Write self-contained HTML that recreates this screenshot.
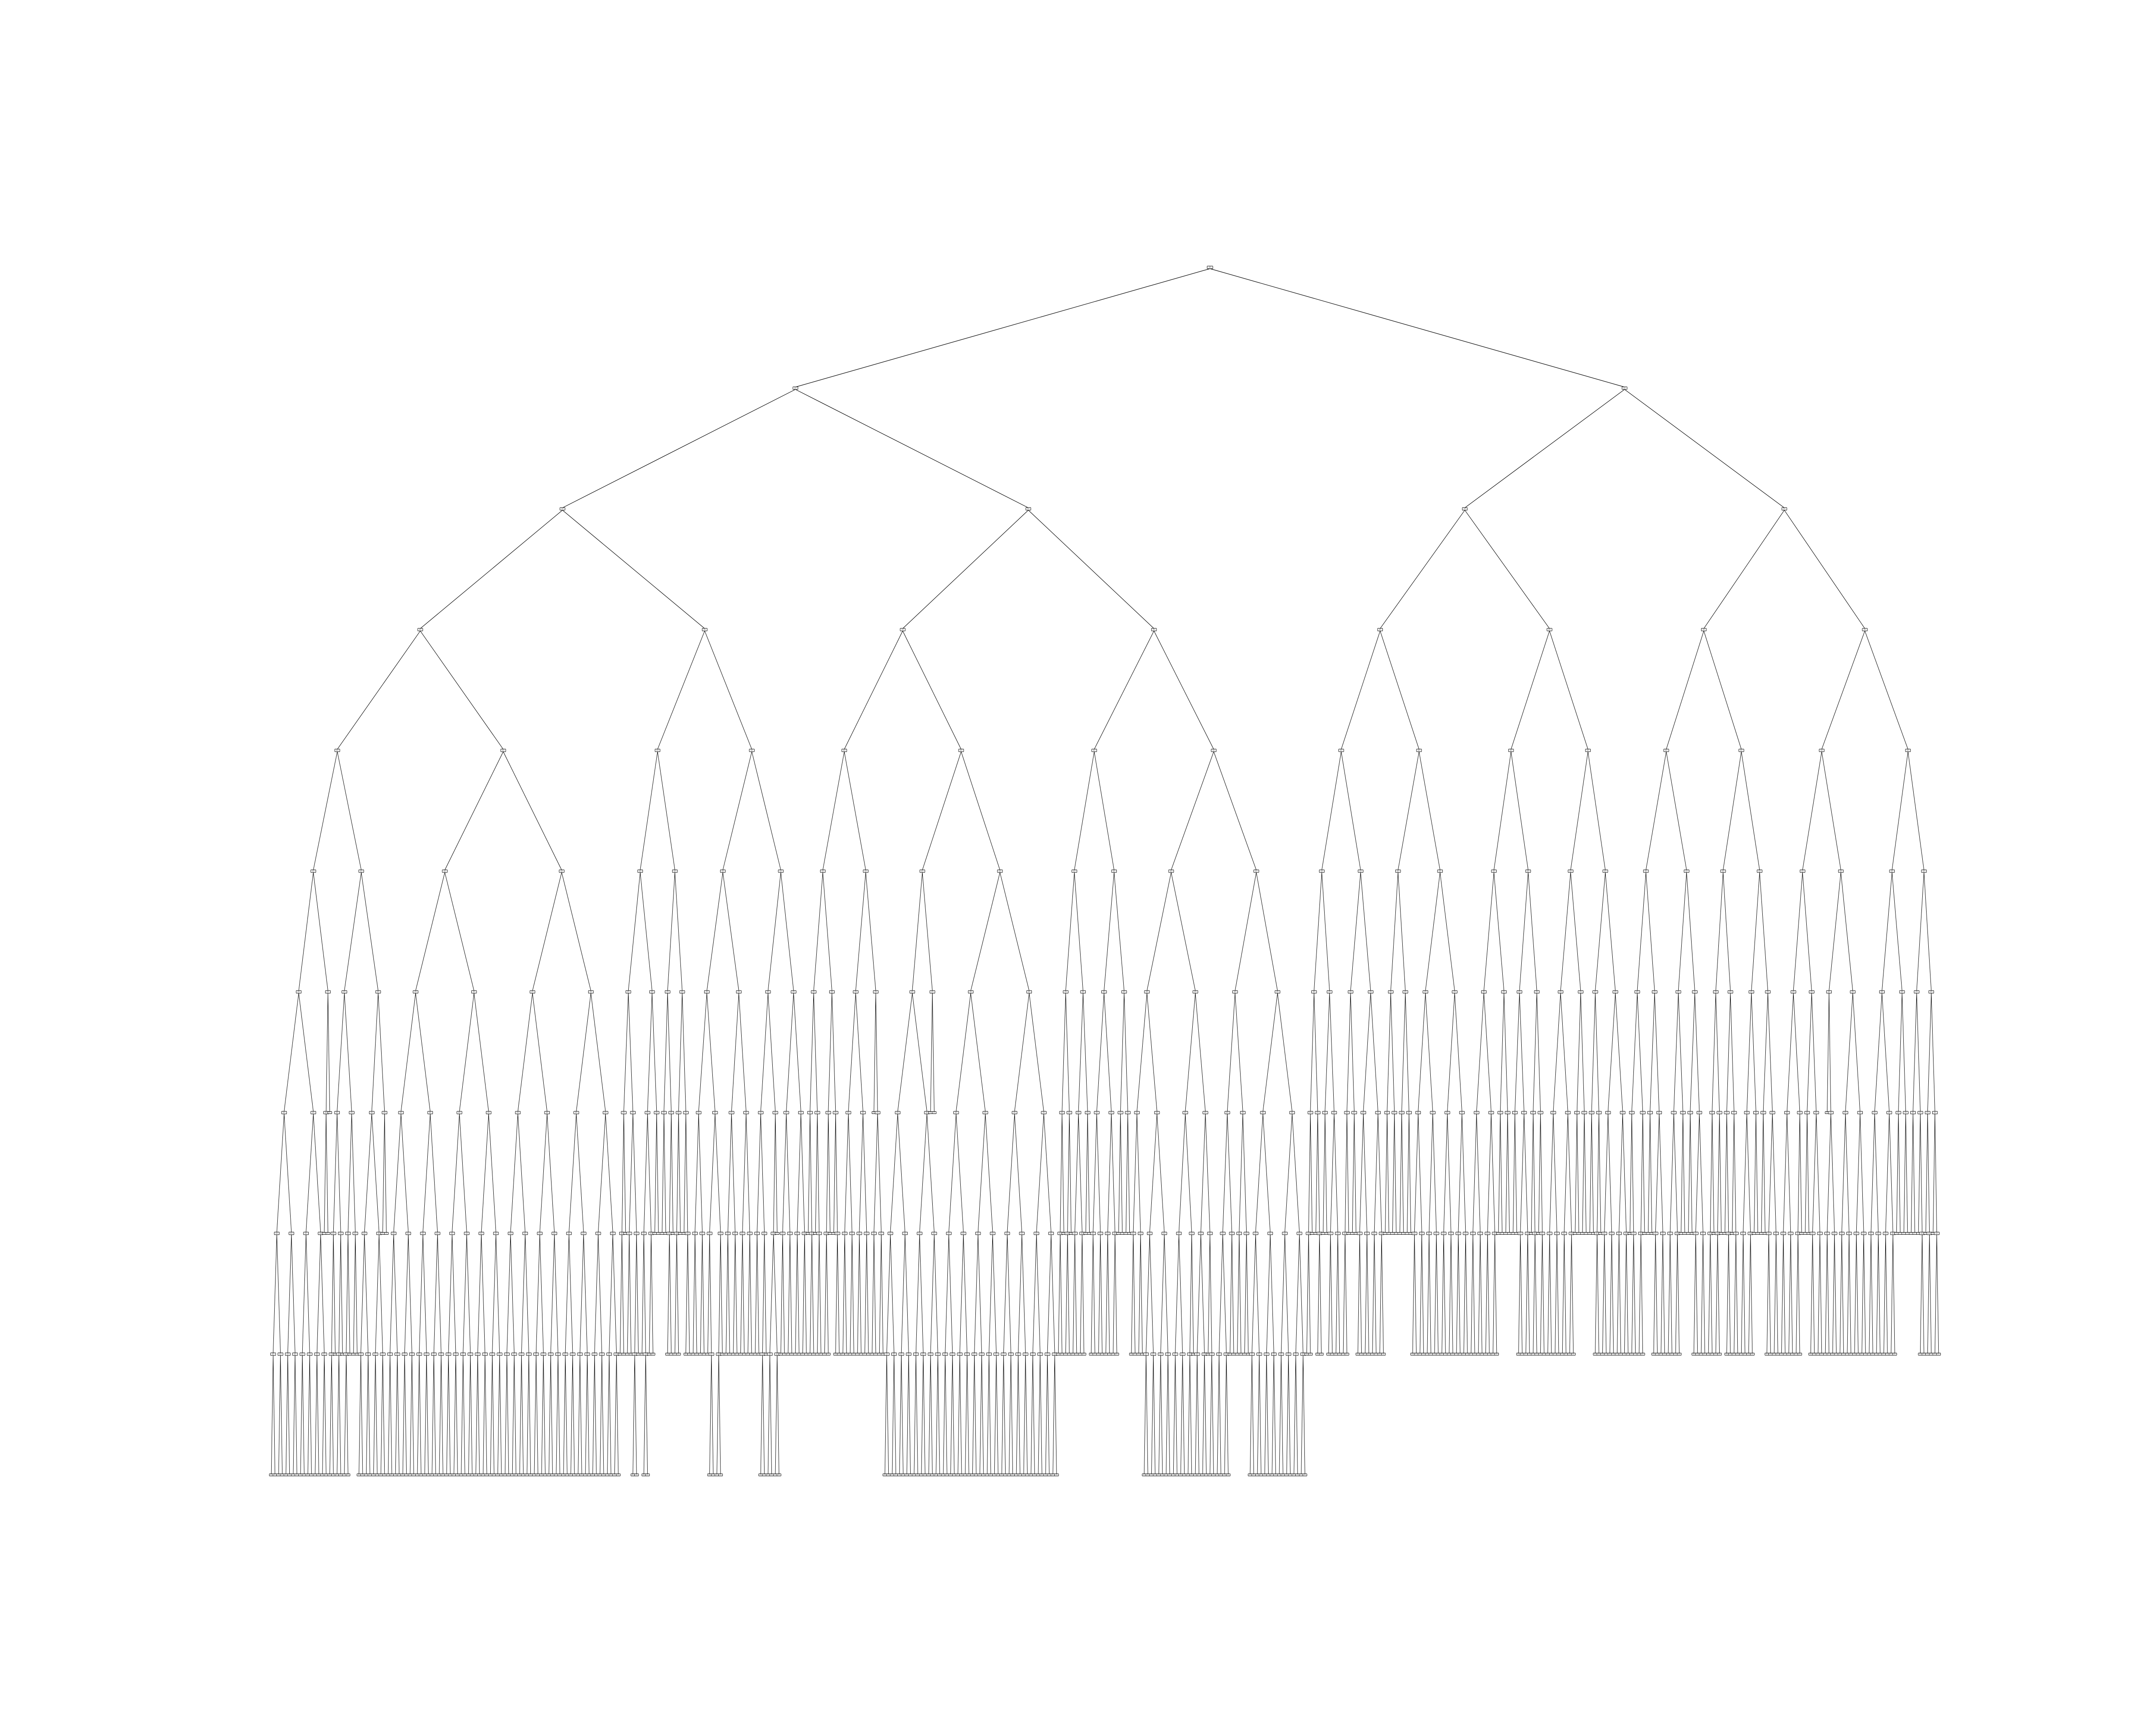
<!DOCTYPE html>
<html>
<head>
<meta charset="utf-8">
<style>
  html, body { margin: 0; padding: 0; background: #ffffff; width: 100%; height: 100%; overflow: hidden; }
  #chart { display: block; position: absolute; left: 0; top: 0; width: 100vw; height: 100vh; }
  text { font-family: "Liberation Sans", sans-serif; }
</style>
</head>
<body>
<svg id="chart" viewBox="0 0 6400 4000" preserveAspectRatio="none" xmlns="http://www.w3.org/2000/svg">
  <rect x="0" y="0" width="6400" height="4000" fill="#ffffff"/>
  <g id="edges"></g>
  <g id="nodes"></g>
</svg>
<script>
// ---- Tree structure data ----
// Depth of the fully-balanced top part of the tree (root = depth 0).
const topDepth = 5;
// Subtrees hanging at depth 5, left to right.
// Grammar: "(" left right ")" = split node, digit k = complete subtree with k more levels (0 = leaf).
const subtreeSpecs = [
  "(4((00)0))",
  "((((10)(10))((10)(00)))(3(00)))",
  "5",
  "5",
  "(((10)(1(10)))(((01)1)1))",
  "((1(10))((10)(01)))",
  "((2((01)(10)))3)",
  "(((1(10))((11)0))3)",
  "(((01)(01))((10)(01)))",
  "(3(02))",
  "(41)",
  "5",
  "(((10)(10))(21))",
  "(32)",
  "((23)((2(10))(2(01))))",
  "(((21)2)4)",
  "(((10)(01))(12))",
  "(((10)1)3)",
  "3",
  "4",
  "(32)",
  "((12)((01)(01)))",
  "(32)",
  "((1(10))3)",
  "(((01)(10))(12))",
  "((21)(12))",
  "(((10)(10))((01)(01)))",
  "((21)(12))",
  "((2(10))(12))",
  "((02)3)",
  "(32)",
  "((1(01))((01)(01)))"
];
const splitLabels = ["x[0] <= 0.5", "gini = 0.5", "samples = 10"];
const leafLabels = ["gini = 0.0", "samples = 1"];

// ---- Build tree ----
function fullTree(k) {
  if (k <= 0) return { children: [] };
  return { children: [fullTree(k - 1), fullTree(k - 1)] };
}
function parseSpec(s) {
  let i = 0;
  function parse() {
    const c = s[i];
    if (c === "(") {
      i++;
      const l = parse();
      const r = parse();
      i++;
      return { children: [l, r] };
    }
    i++;
    return fullTree(parseInt(c, 10));
  }
  return parse();
}
let specIndex = 0;
function buildTop(d) {
  if (d === topDepth) {
    const spec = subtreeSpecs[specIndex++];
    return spec ? parseSpec(spec) : { children: [] };
  }
  return { children: [buildTop(d + 1), buildTop(d + 1)] };
}
const treeRoot = buildTop(0);

// ---- Buchheim layout ----
class DT {
  constructor(tree, parent, depth, number) {
    this.x = -1; this.y = depth; this.tree = tree;
    this.parent = parent; this.thread = null; this.mod = 0;
    this.ancestor = this; this.change = 0; this.shift = 0;
    this._lm = null; this.number = number;
    this.children = tree.children.map((c, i) => new DT(c, this, depth + 1, i + 1));
  }
  left() { return this.thread || (this.children.length ? this.children[0] : null); }
  right() { return this.thread || (this.children.length ? this.children[this.children.length - 1] : null); }
  lbrother() {
    let n = null;
    if (this.parent) {
      for (const node of this.parent.children) { if (node === this) return n; n = node; }
    }
    return n;
  }
  lmost() {
    if (!this._lm && this.parent && this !== this.parent.children[0]) this._lm = this.parent.children[0];
    return this._lm;
  }
}
function firstWalk(v, distance) {
  if (v.children.length === 0) {
    if (v.lmost()) v.x = v.lbrother().x + distance; else v.x = 0;
  } else {
    let def = v.children[0];
    for (const w of v.children) { firstWalk(w, distance); def = apportion(w, def, distance); }
    executeShifts(v);
    const mid = (v.children[0].x + v.children[v.children.length - 1].x) / 2;
    const w = v.lbrother();
    if (w) { v.x = w.x + distance; v.mod = v.x - mid; } else { v.x = mid; }
  }
  return v;
}
function apportion(v, def, distance) {
  const w = v.lbrother();
  if (w) {
    let vir = v, vor = v, vil = w, vol = v.lmost();
    let sir = v.mod, sor = v.mod, sil = vil.mod, sol = vol.mod;
    while (vil.right() && vir.left()) {
      vil = vil.right(); vir = vir.left(); vol = vol.left(); vor = vor.right();
      vor.ancestor = v;
      const shift = (vil.x + sil) - (vir.x + sir) + distance;
      if (shift > 0) {
        moveSubtree(ancestorOf(vil, v, def), v, shift);
        sir += shift; sor += shift;
      }
      sil += vil.mod; sir += vir.mod; sol += vol.mod; sor += vor.mod;
    }
    if (vil.right() && !vor.right()) {
      vor.thread = vil.right(); vor.mod += sil - sor;
    } else {
      if (vir.left() && !vol.left()) { vol.thread = vir.left(); vol.mod += sir - sol; }
      def = v;
    }
  }
  return def;
}
function moveSubtree(wl, wr, shift) {
  const subtrees = wr.number - wl.number;
  wr.change -= shift / subtrees; wr.shift += shift;
  wl.change += shift / subtrees; wr.x += shift; wr.mod += shift;
}
function executeShifts(v) {
  let shift = 0, change = 0;
  for (let i = v.children.length - 1; i >= 0; i--) {
    const w = v.children[i];
    w.x += shift; w.mod += shift; change += w.change; shift += w.shift + change;
  }
}
function ancestorOf(vil, v, def) {
  return v.parent.children.includes(vil.ancestor) ? vil.ancestor : def;
}
function secondWalk(v, m, depth, min) {
  v.x += m; v.y = depth;
  if (min === null || v.x < min) min = v.x;
  for (const w of v.children) min = secondWalk(w, m + v.mod, depth + 1, min);
  return min;
}
function thirdWalk(v, n) { v.x += n; for (const c of v.children) thirdWalk(c, n); }

const dt = firstWalk(new DT(treeRoot, null, 0, 1), 1.0);
const mn = secondWalk(dt, 0, 0, null);
if (mn < 0) thirdWalk(dt, -mn);

// ---- Scales ----
let maxX = 0, maxY = 0;
(function ext(v) { maxX = Math.max(maxX, v.x); maxY = Math.max(maxY, v.y); v.children.forEach(ext); })(dt);
const axLeft = 800, axWidth = 4960, axTop = 480, axHeight = 3080;
function sx(x) { return axLeft + (x + 0.5) * axWidth / (maxX + 1); }
function sy(d) { return axTop + (d + 0.5) * axHeight / (maxY + 1); }

// ---- Draw ----
const NS = "http://www.w3.org/2000/svg";
const edgesG = document.getElementById("edges");
const nodesG = document.getElementById("nodes");
function draw(v) {
  const cx = sx(v.x), cy = sy(v.y);
  const isLeaf = v.children.length === 0;
  const bw = v.y === 0 ? 17 : (isLeaf ? 12 : 15);
  const bh = isLeaf ? 5 : 6;
  for (const c of v.children) {
    const ln = document.createElementNS(NS, "line");
    ln.setAttribute("x1", cx); ln.setAttribute("y1", cy + bh / 2);
    ln.setAttribute("x2", sx(c.x)); ln.setAttribute("y2", sy(c.y) - 2.5);
    ln.setAttribute("stroke", "#000"); ln.setAttribute("stroke-width", "1.2");
    
    
    edgesG.appendChild(ln);
    draw(c);
  }
  const g = document.createElementNS(NS, "g");
  
  
  const r = document.createElementNS(NS, "rect");
  r.setAttribute("x", cx - bw / 2); r.setAttribute("y", cy - bh / 2);
  r.setAttribute("width", bw); r.setAttribute("height", bh);
  r.setAttribute("rx", 1); r.setAttribute("fill", "#ffffff");
  r.setAttribute("stroke", "#000"); r.setAttribute("stroke-width", "1.1");
  
  
  g.appendChild(r);
  const lines = isLeaf ? leafLabels : splitLabels;
  const t = document.createElementNS(NS, "text");
  t.setAttribute("x", cx); t.setAttribute("y", cy - bh / 2 + 1.6);
  t.setAttribute("font-size", "1.3"); t.setAttribute("text-anchor", "middle");
  t.setAttribute("fill", "#444");
  
  
  lines.forEach((s, i) => {
    const ts = document.createElementNS(NS, "tspan");
    ts.setAttribute("x", cx);
    if (i > 0) ts.setAttribute("dy", "1.3");
    ts.textContent = s;
    t.appendChild(ts);
  });
  g.appendChild(t);
  nodesG.appendChild(g);
}
draw(dt);
</script>
</body>
</html>
